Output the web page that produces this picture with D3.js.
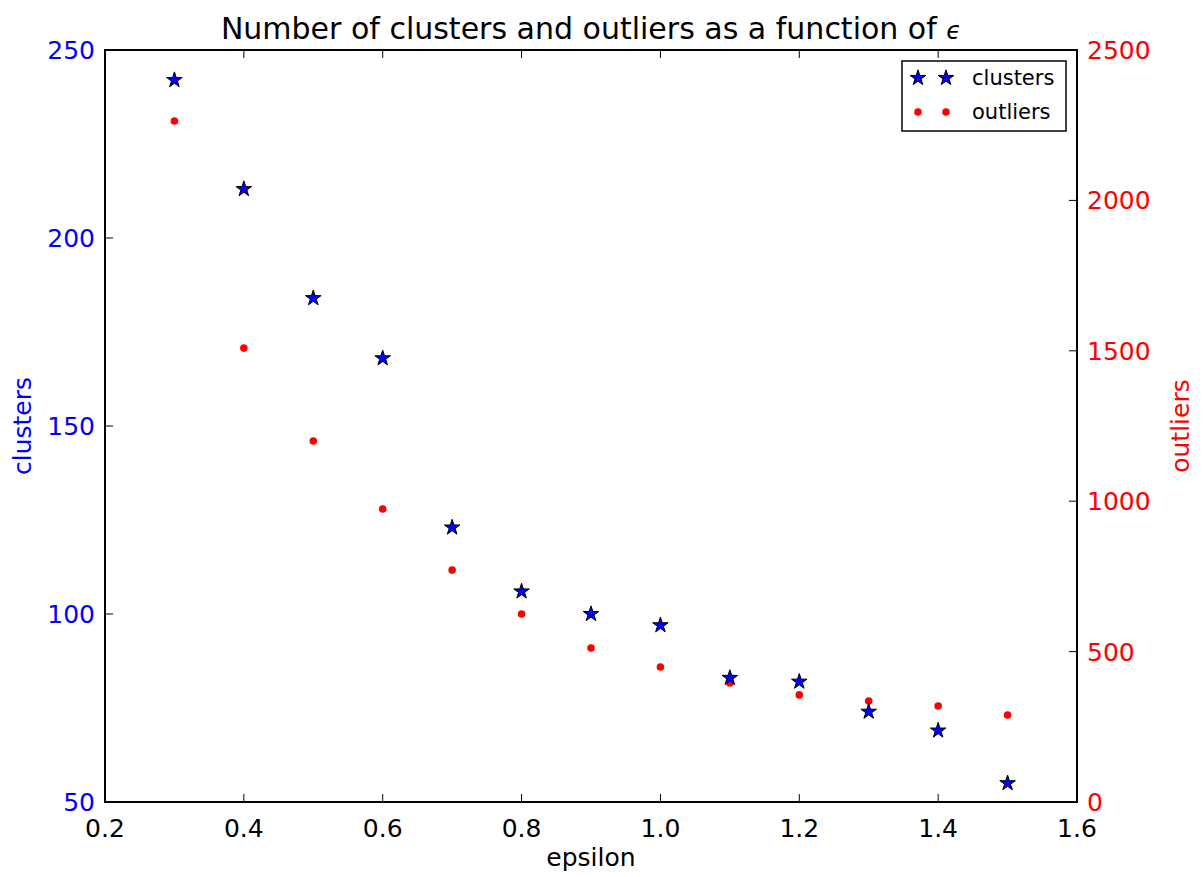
<!DOCTYPE html>
<html><head><meta charset="utf-8">
<script src="https://cdnjs.cloudflare.com/ajax/libs/d3/7.8.5/d3.min.js"></script>
<style>body{margin:0;background:#fff}svg{font-family:"DejaVu Sans",sans-serif}</style>
</head><body>
<svg id="c" width="1203" height="877"></svg>
<script>
const epsilon = [0.3,0.4,0.5,0.6,0.7,0.8,0.9,1.0,1.1,1.2,1.3,1.4,1.5];
const clusters = [242,213,184,168,123,106,100,97,83,82,74,69,55];
const outliers = [2264,1509,1200,974,771,625,512,449,396,356,336,319,289];
const xTicks = [0.2,0.4,0.6,0.8,1.0,1.2,1.4,1.6];
const yLeftTicks = [50,100,150,200,250];
const yRightTicks = [0,500,1000,1500,2000,2500];

const svg = d3.select("#c");
const L=105,R=1077,T=50,B=802;
const x = d3.scaleLinear().domain([0.2,1.6]).range([L,R]);
const yl = d3.scaleLinear().domain([50,250]).range([B,T]);
const yr = d3.scaleLinear().domain([0,2500]).range([B,T]);
const tl = 8, fs = 25;

const g = svg.append("g");
xTicks.forEach(v=>{
  g.append("line").attr("x1",x(v)).attr("x2",x(v)).attr("y1",B).attr("y2",B-tl).attr("stroke","#000").attr("stroke-width",1);
  g.append("line").attr("x1",x(v)).attr("x2",x(v)).attr("y1",T).attr("y2",T+tl).attr("stroke","#000").attr("stroke-width",1);
  g.append("text").attr("x",x(v)).attr("y",B+35).attr("text-anchor","middle").attr("font-size",fs).text(v.toFixed(1));
});
yLeftTicks.forEach(v=>{
  g.append("line").attr("x1",L).attr("x2",L+tl).attr("y1",yl(v)).attr("y2",yl(v)).attr("stroke","#000");
  g.append("text").attr("x",L-10).attr("y",yl(v)+9).attr("text-anchor","end").attr("font-size",fs).attr("fill","#0000ff").text(v);
});
yRightTicks.forEach(v=>{
  g.append("line").attr("x1",R).attr("x2",R-tl).attr("y1",yr(v)).attr("y2",yr(v)).attr("stroke","#000");
  g.append("text").attr("x",R+10).attr("y",yr(v)+9).attr("text-anchor","start").attr("font-size",fs).attr("fill","#ff0000").text(v);
});

svg.append("rect").attr("x",L).attr("y",T).attr("width",R-L).attr("height",B-T).attr("fill","none").attr("stroke","#000").attr("stroke-width",2);

svg.append("text").attr("x",(L+R)/2).attr("y",866).attr("text-anchor","middle").attr("font-size",fs).text("epsilon");
svg.append("text").attr("transform",`translate(31,${(T+B)/2}) rotate(-90)`).attr("text-anchor","middle").attr("font-size",fs).attr("fill","#0000ff").text("clusters");
svg.append("text").attr("transform",`translate(1189,${(T+B)/2}) rotate(-90)`).attr("text-anchor","middle").attr("font-size",fs).attr("fill","#ff0000").text("outliers");
const title = svg.append("text").attr("x",591).attr("y",39).attr("text-anchor","middle").attr("font-size",30);
title.append("tspan").text("Number of clusters and outliers as a function of ");
title.append("tspan").attr("font-style","italic").attr("font-size",24).text("\u03F5");

const star = d3.symbol().type(d3.symbolStar).size(75);
svg.append("g").selectAll("circle").data(epsilon).join("circle")
  .attr("cx",d=>x(d)).attr("cy",(d,i)=>yr(outliers[i])).attr("r",3.8).attr("fill","#ff0000");
svg.append("g").selectAll("path").data(epsilon).join("path")
  .attr("d",star).attr("transform",(d,i)=>`translate(${x(d)},${yl(clusters[i])})`)
  .attr("fill","#0000ff").attr("stroke","#000").attr("stroke-width",1);

const lg = svg.append("g");
lg.append("rect").attr("x",902).attr("y",61).attr("width",164).attr("height",70).attr("fill","#fff").attr("stroke","#000").attr("stroke-width",1.5);
[[918,78],[946,78]].forEach(p=>lg.append("path").attr("d",star).attr("transform",`translate(${p[0]},${p[1]})`).attr("fill","#0000ff").attr("stroke","#000"));
[[918,112],[946,112]].forEach(p=>lg.append("circle").attr("cx",p[0]).attr("cy",p[1]).attr("r",3.8).attr("fill","#ff0000"));
lg.append("text").attr("x",972).attr("y",85).attr("font-size",21).text("clusters");
lg.append("text").attr("x",972).attr("y",119).attr("font-size",21).text("outliers");
</script>
</body></html>
